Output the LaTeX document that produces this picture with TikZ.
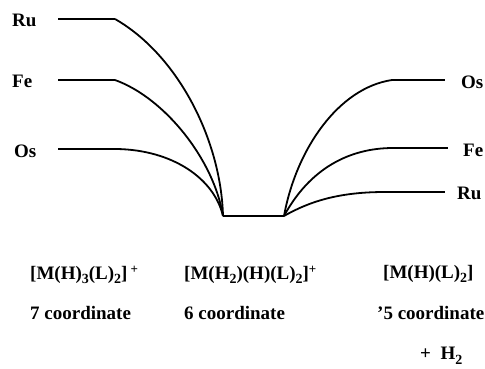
\documentclass[tikz,border=0pt]{standalone}
\usepackage{fontspec}
\setmainfont{Liberation Serif}
\newcommand{\lsub}[1]{\raisebox{-4.5pt}{\fontsize{14pt}{14pt}\selectfont #1}}
\newcommand{\lsup}[1]{\raisebox{6pt}{\fontsize{13pt}{13pt}\selectfont #1}}
\begin{document}
\begin{tikzpicture}[x=1pt,y=-1pt,
  lbl/.style={anchor=west,inner sep=0pt,font=\fontsize{19pt}{21pt}\selectfont\bfseries},
  level/.style={line width=2.8pt},
  curve/.style={line width=1.8pt}]
\useasboundingbox (0,0) rectangle (485,368);
% left levels
\coordinate (RuLa) at (58,19);  \coordinate (RuLb) at (115,19);
\coordinate (FeLa) at (58,80);  \coordinate (FeLb) at (115,80);
\coordinate (OsLa) at (58,149); \coordinate (OsLb) at (117,149);
% bottom level
\coordinate (Ba) at (223,216); \coordinate (Bb) at (284,216);
% right levels
\coordinate (OsRa) at (392,80);  \coordinate (OsRb) at (445,80);
\coordinate (FeRa) at (393,148); \coordinate (FeRb) at (448,148);
\coordinate (RuRa) at (385,192); \coordinate (RuRb) at (445,192);
\draw[level] (RuLa) -- (RuLb);
\draw[level] (FeLa) -- (FeLb);
\draw[level] (OsLa) -- (OsLb);
\draw[level] (Ba) -- (Bb);
\draw[level] (OsRa) -- (OsRb);
\draw[level] (FeRa) -- (FeRb);
\draw[level] (RuRa) -- (RuRb);
% curves
\draw[curve] (RuLb) .. controls (178,55) and (221,140) .. (Ba);
\draw[curve] (FeLb) .. controls (165,98) and (214,160) .. (Ba);
\draw[curve] (OsLb) .. controls (172,150) and (214,178) .. (Ba);
\draw[curve] (Bb) .. controls (296,150) and (338,88) .. (OsRa);
\draw[curve] (Bb) .. controls (310,168) and (350,148) .. (FeRa);
\draw[curve] (Bb) .. controls (312,200) and (342,192) .. (RuRa);
% labels
\node[lbl] (ruL) at (12,20) {Ru};
\node[lbl] (feL) at (12,81) {Fe};
\node[lbl] (osL) at (14,151) {Os};
\node[lbl] (osR) at (461,82) {Os};
\node[lbl] (feR) at (463,150) {Fe};
\node[lbl] (ruR) at (457,193) {Ru};
% bottom texts
\node[lbl] (f1) at (30,275) {[M(H)\lsub{3}(L)\lsub{2}]\,\lsup{+}};
\node[lbl] (f2) at (184,275) {[M(H\lsub{2})(H)(L)\lsub{2}]\lsup{+}};
\node[lbl] (f3) at (383,274) {[M(H)(L)\lsub{2}]};
\node[lbl] (c1) at (30,313) {7 coordinate};
\node[lbl] (c2) at (184,313) {6 coordinate};
\node[lbl] (c3) at (377,313) {'5 coordinate};
\node[lbl] (h2) at (420,356) {+\ \ H\lsub{2}};
\end{tikzpicture}
\end{document}
